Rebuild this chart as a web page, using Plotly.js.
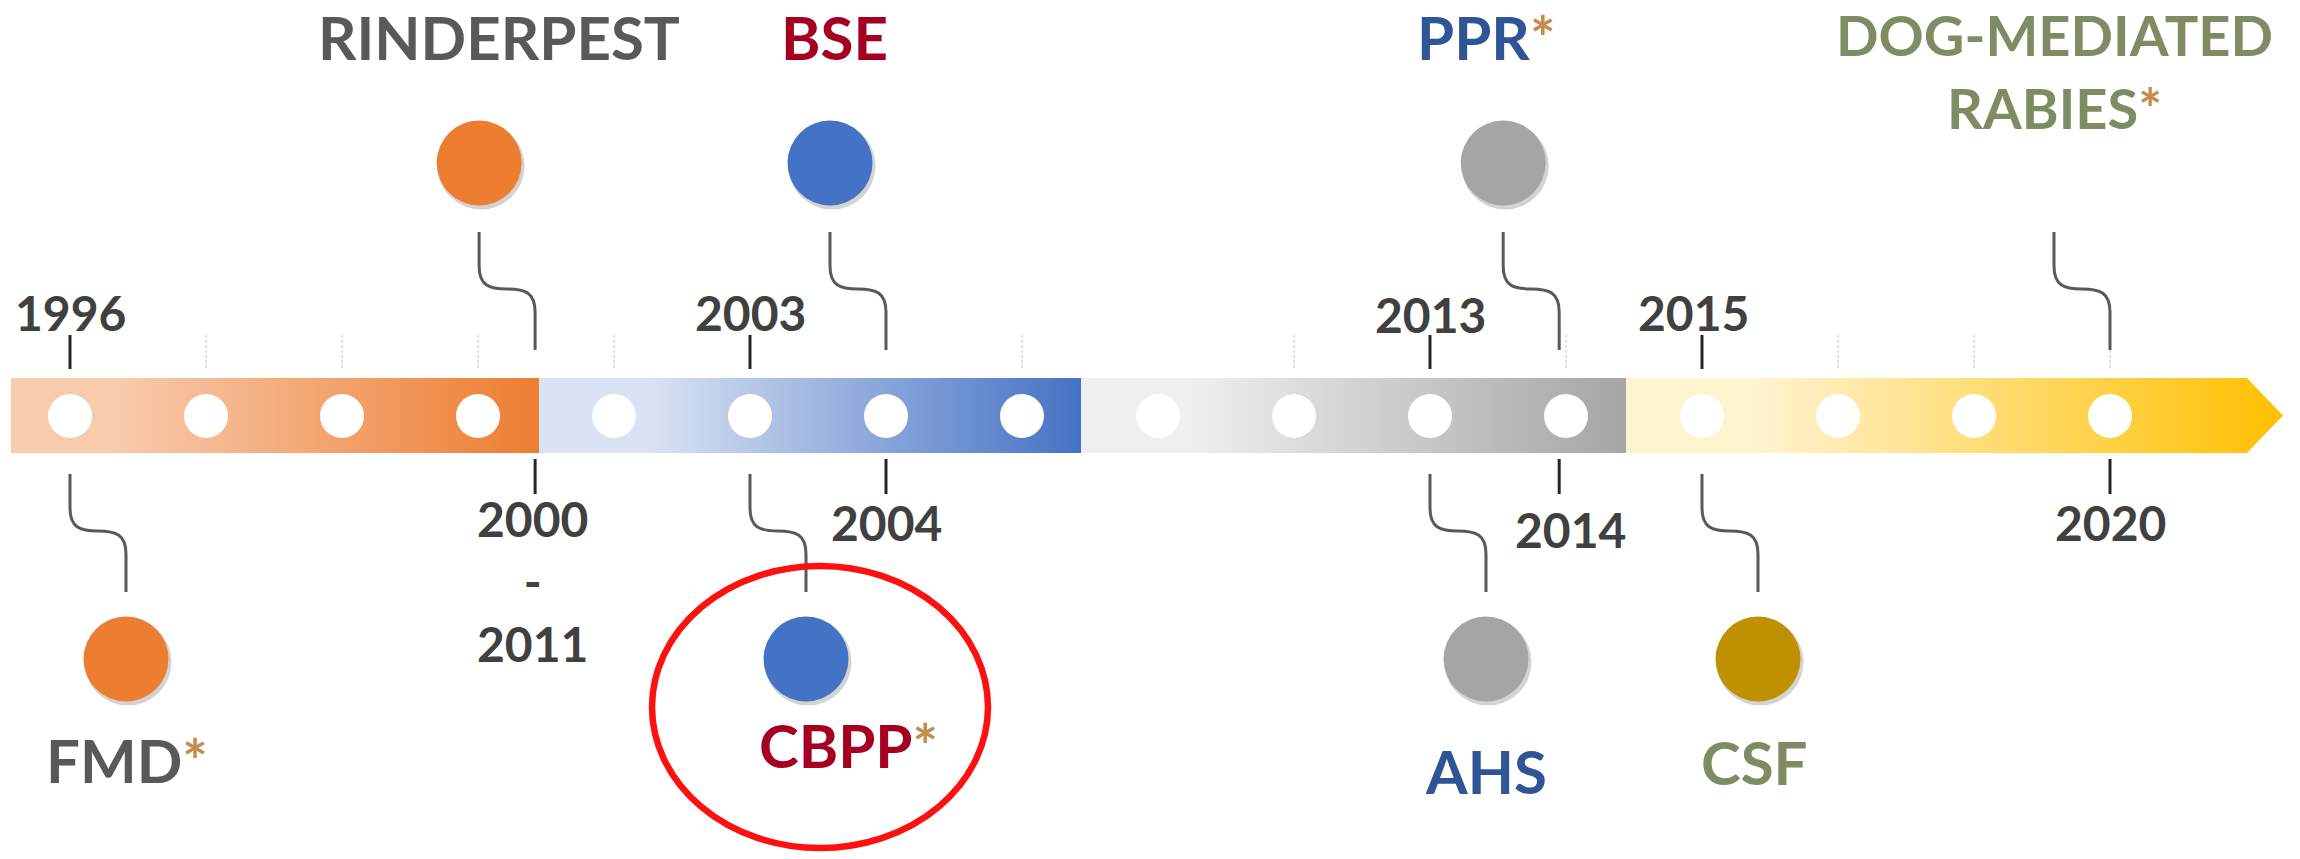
<!DOCTYPE html>
<html><head><meta charset="utf-8">
<script src="https://cdn.plot.ly/plotly-3.0.1.min.js"></script>
<style>html,body{margin:0;padding:0;background:#fff;}#chart{width:2300px;height:859px;}</style>
</head><body><div id="chart"></div>
<script>
// ---------------- data ----------------
const dotSlots = [0,1,2,3,4,5,6,7,8,9,10,11,12,13,14,15];
const minorTickSlots = [1,2,3,4,7,9,11,13,14,15];
const segmentStart = [-0.434, 3.449, 7.434, 11.441];
const segmentEnd = [3.449, 7.434, 11.441, 16.007];
const arrowTip = 16.272;
const segmentLight = ['#F8CBAD','#DAE3F3','#EFEFEF','#FFF3D0'];
const segmentDark = ['#ED7D31','#4472C4','#A5A5A5','#FFC000'];

const eventNames = ['FMD','RINDERPEST','CBPP','BSE','AHS','PPR','CSF','DOG-MEDIATED<br>RABIES'];
const eventStar = [true,false,true,false,false,true,false,true];
const eventYears = ['1996','2000<br>-<br>2011','2003','2004','2013','2014','2015','2020'];
const eventSlots = [0,3.42,5,6,10,10.95,12,15];
const eventSides = ['below','above','below','above','below','above','below','above'];
const eventTextColors = ['#595959','#595959','#A50021','#A50021','#2F5597','#2F5597','#7F8C63','#7F8C63'];
const eventCircleColors = ['#ED7D31','#ED7D31','#4472C4','#4472C4','#A5A5A5','#A5A5A5','#BF9000',null];
const highlightedEvent = 'CBPP';

// ---------------- layout constants (pixels) ----------------
const W = 2300, H = 859, SLOT_PX = 136, ORIGIN_PX = 70;
const P = v => v / SLOT_PX;                 // pixel offset -> slot units
const BAR = {top:378, bottom:453, dotY:416};
const GEO = {
  above:{tick:[335,369], conn:[350,312,266,232], circle:163, label:37, year:312, shift:-56},
  below:{tick:[459,494], conn:[474,508,554,592], circle:659, label:760, year:522, shift:56}
};
const labelTweaks = {FMD:{dx:1,y:760}, RINDERPEST:{dx:20,y:37}, CBPP:{dx:42,y:745}, BSE:{dx:4,y:37},
  AHS:{dx:0,y:771}, PPR:{dx:-17,y:37}, CSF:{dx:-4,y:762}, 'DOG-MEDIATED<br>RABIES':{dx:0,y:71,size:56}};
const yearTweaks = {'2015':{dx:-9}, '2014':{dx:11,y:529}, '2000<br>-<br>2011':{dx:-3,y:581}, '2013':{dy:2}};
const STAR_COLOR = '#C58B4D';
const LABEL_FONT = 'Lato, "Liberation Sans", sans-serif';
const LABEL_SIZE = 60;
const YEAR_FONT = 'Lato, "Liberation Sans", sans-serif';
const YEAR_SIZE = 48;

const traces = [];
const shapes = [];
const annotations = [];

// bar segments with gradients
segmentStart.forEach((s,i)=>{
  const e = segmentEnd[i];
  const last = i === segmentStart.length-1;
  const xs = last ? [s, e, arrowTip, e, s, s] : [s, e, e, s, s];
  const ys = last ? [BAR.top, BAR.top, (BAR.top+BAR.bottom)/2, BAR.bottom, BAR.bottom, BAR.top]
                  : [BAR.top, BAR.top, BAR.bottom, BAR.bottom, BAR.top];
  traces.push({type:'scatter', mode:'lines', x:xs, y:ys, fill:'toself', line:{width:0},
    fillcolor:segmentDark[i], hoverinfo:'skip', showlegend:false,
    fillgradient:{type:'horizontal', colorscale:[[0,segmentLight[i]],[0.2,segmentLight[i]],[1,segmentDark[i]]],
      start:s, stop:(last?arrowTip:e)}});
});

// white dots
traces.push({type:'scatter', mode:'markers', x:dotSlots, y:dotSlots.map(()=>BAR.dotY),
  marker:{size:44, color:'#FFFFFF', line:{width:0}}, hoverinfo:'skip', showlegend:false});

// minor dashed ticks
minorTickSlots.forEach(s=>{
  shapes.push({type:'line', xref:'x', yref:'y', x0:s, x1:s, y0:GEO.above.tick[0], y1:GEO.above.tick[1],
    line:{color:'#D6D6D6', width:1.5, dash:'3px,2px'}});
});

// events
const circX=[], circY=[], circC=[];
eventNames.forEach((name,i)=>{
  const side = GEO[eventSides[i]];
  const other = GEO[eventSides[i]==='above'?'below':'above'];
  const xn = eventSlots[i];
  const xf = xn + P(side.shift);
  const xm = (xn+xf)/2;
  const [y0,y1,y2,y3] = side.conn;
  const t = y2-y1, ym = y1+t/2;
  const path = `M ${xn},${y0} L ${xn},${y1} C ${xn},${y1+t*0.42} ${xn+(xm-xn)*0.35},${ym} ${xm},${ym} `+
               `C ${xm+(xf-xm)*0.65},${ym} ${xf},${y1+t*0.58} ${xf},${y2} L ${xf},${y3}`;
  shapes.push({type:'path', xref:'x', yref:'y', path, line:{color:'#595959', width:3}});

  // year tick on the opposite side
  shapes.push({type:'line', xref:'x', yref:'y', x0:xn, x1:xn, y0:other.tick[0], y1:other.tick[1],
    line:{color:'#262626', width:3}});
  const yt = yearTweaks[eventYears[i]] || {};
  annotations.push({xref:'x', yref:'y', x:xn+P(yt.dx||0), y:(yt.y||other.year)+(yt.dy||0),
    text:eventYears[i], showarrow:false, xanchor:'center', yanchor:'middle',
    font:{family:YEAR_FONT, size:YEAR_SIZE, color:'#404040', weight:'bold'}});

  // circle
  if (eventCircleColors[i]) { circX.push(xf); circY.push(side.circle); circC.push(eventCircleColors[i]); }

  // disease label
  const lt = labelTweaks[name] || {};
  const txt = name + (eventStar[i] ? `<span style="color:${STAR_COLOR}">*</span>` : '');
  annotations.push({xref:'x', yref:'y', x:xf+P(lt.dx||0), y:lt.y||side.label, text:txt, showarrow:false,
    xanchor:'center', yanchor:'middle',
    font:{family:LABEL_FONT, size:lt.size||LABEL_SIZE, color:eventTextColors[i], weight:'bold'}});

  if (name === highlightedEvent) {
    const cx = xf + P(14), cy = side.circle + 48, rx = P(168), ry = 141;
    shapes.push({type:'circle', xref:'x', yref:'y', x0:cx-rx, x1:cx+rx, y0:cy-ry, y1:cy+ry,
      line:{color:'#FF1010', width:6.5}});
  }
});

// circle shadows + circles
traces.push({type:'scatter', mode:'markers', x:circX.map(v=>v+P(2)), y:circY.map(v=>v+3),
  marker:{size:87, color:'rgba(80,80,80,0.25)', line:{width:0}}, hoverinfo:'skip', showlegend:false});
traces.push({type:'scatter', mode:'markers', x:circX, y:circY,
  marker:{size:85, color:circC, line:{width:0}}, hoverinfo:'skip', showlegend:false});

const layout = {
  width:W, height:H, margin:{l:0,r:0,t:0,b:0}, paper_bgcolor:'#FFFFFF', plot_bgcolor:'#FFFFFF',
  xaxis:{range:[-ORIGIN_PX/SLOT_PX, (W-ORIGIN_PX)/SLOT_PX], visible:false, fixedrange:true},
  yaxis:{range:[H,0], visible:false, fixedrange:true},
  shapes, annotations, showlegend:false
};
Plotly.newPlot('chart', traces, layout, {displayModeBar:false, staticPlot:true});
</script></body></html>
